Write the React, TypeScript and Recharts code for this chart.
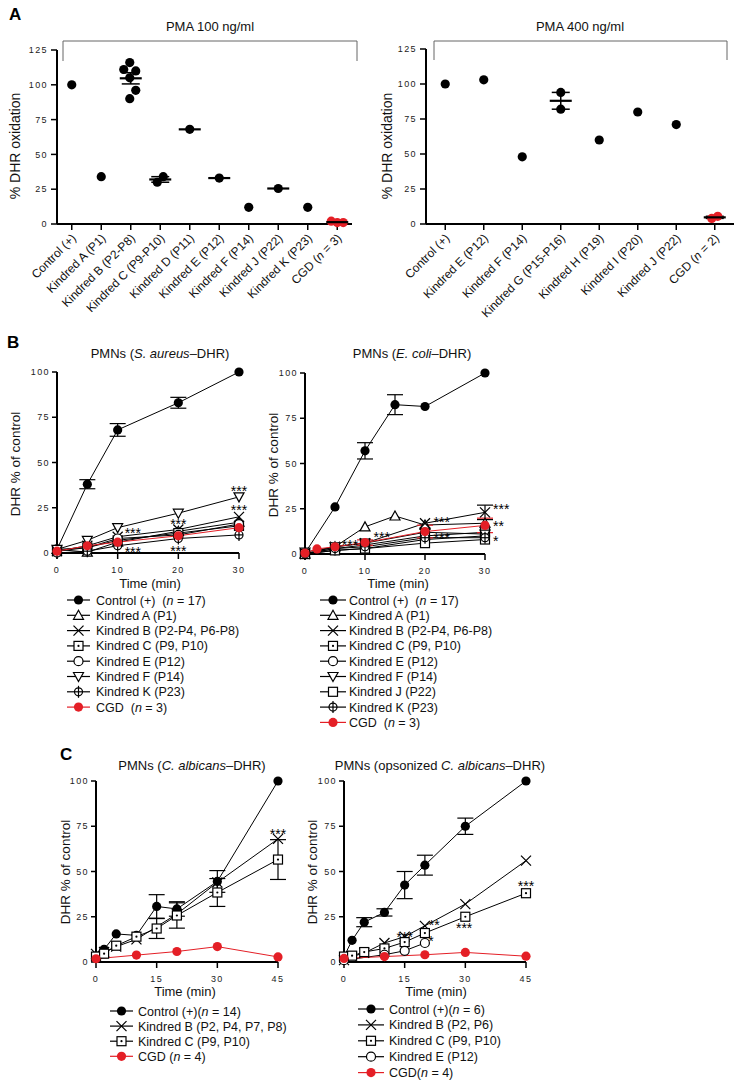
import React from "react";
import { ComposedChart, Line, Scatter, XAxis, YAxis, ErrorBar } from "recharts";

const FONT = '"Liberation Sans", Arial, Helvetica, sans-serif';
const RED = "#e41f26";
const BLACK = "#000";

// ---------- Panel A: PMA stimulation ----------
const pma100Groups = [
  "Control (+)",
  "Kindred A (P1)",
  "Kindred B (P2-P8)",
  "Kindred C (P9-P10)",
  "Kindred D (P11)",
  "Kindred E (P12)",
  "Kindred F (P14)",
  "Kindred J (P22)",
  "Kindred K (P23)",
  "CGD (n = 3)",
];
const pma100Values = [[100], [34], [116, 110, 111, 90, 96, 105], [30, 34], [68], [33], [12], [25.5], [12], [1, 2, 1]];
const pma100ShowMean = [false, false, true, true, true, true, false, true, false, true];

const pma400Groups = [
  "Control (+)",
  "Kindred E (P12)",
  "Kindred F (P14)",
  "Kindred G (P15-P16)",
  "Kindred H (P19)",
  "Kindred I (P20)",
  "Kindred J (P22)",
  "CGD (n = 2)",
];
const pma400Values = [[100], [103], [48], [94, 82], [60], [80], [71], [4, 5.5]];
const pma400ShowMean = [false, false, false, true, false, false, false, true];
const pmaTicks = [0, 25, 50, 75, 100, 125];

// ---------- Panel B: S. aureus ----------
const saTime = [0, 5, 10, 20, 30];
const saControl = [2, 38, 68, 83, 100];
const saControlSem = [0, 2.5, 3.5, 3, 0];
const saKinA = [2, 0.5, 6, 12, 17];
const saKinB = [1, 4, 9, 13, 20];
const saKinC = [1, 3, 7, 11, 15];
const saKinE = [2, 3, 8, 10, 16];
const saKinF = [2, 7, 14, 22, 31];
const saKinK = [0, 1, 4, 8, 10];
const saCgd = [1, 4, 6, 9.5, 14];
const saStars = [
  { t: 30, v: 36, s: "***" },
  { t: 30, v: 25.5, s: "***" },
  { t: 20, v: 17.7, s: "***" },
  { t: 12.5, v: 12.7, s: "***" },
  { t: 12.5, v: 2.2, s: "***" },
  { t: 20, v: 2.8, s: "***" },
];

// ---------- Panel B: E. coli ----------
const ecTime = [0, 5, 10, 15, 20, 30];
const ecControl = [0.5, 26, 57, 82.5, 81.5, 100];
const ecControlSem = [0, 0, 4.5, 5.5, 0, 0];
const ecKinA = [0, 4, 15, 21, 16, 17];
const ecTimeShort = [0, 5, 10, 20, 30];
const ecKinB = [0, 4, 6, 17, 23];
const ecKinBSem = [0, 0, 0, 0, 4];
const ecKinC = [0, 3, 5, 10, 12];
const ecKinE = [0, 2, 3, 8, 10];
const ecKinF = [1, 4, 6, 12, 11];
const ecKinJ = [0, 2, 3, 6, 8];
const ecKinK = [0, 3, 4, 9, 9];
const ecCgdTime = [0, 2, 5, 10, 20, 30];
const ecCgd = [0.5, 2.8, 4, 6.3, 12.4, 15.8];
const ecCgdSem = [0, 0, 0, 1.5, 3.5, 4];
const ecStars = [
  { t: 7.5, v: 6.7, s: "***" },
  { t: 12.8, v: 11, s: "***" },
  { t: 22.8, v: 19.4, s: "***" },
  { t: 22.8, v: 10.6, s: "***" },
  { t: 30, v: 26.5, s: "***", side: "right" },
  { t: 30, v: 17.2, s: "**", side: "right" },
  { t: 30, v: 8.8, s: "*", side: "right" },
];

// ---------- Panel C: C. albicans ----------
const caTime = [0, 2, 5, 10, 15, 20, 30, 45];
const caControl = [3, 7, 15.5, 14.7, 30.7, 29.3, 44.5, 100];
const caControlSem = [0, 0, 0, 0, 6.5, 4, 6, 0];
const caKinBTime = [0, 2, 5, 10, 20, 30, 45];
const caKinB = [4.5, 5.5, 8.5, 12.5, 26.5, 44, 68];
const caKinC = [3, 4.6, 9, 14, 18.5, 25.7, 38.4, 56.6];
const caKinCSem = [0, 0, 0, 0, 5.5, 7, 7.7, 11];
const caCgdTime = [0, 10, 20, 30, 45];
const caCgd = [1.8, 3.8, 5.8, 8.5, 2.8];
const caStars = [{ t: 45, v: 72.5, s: "***" }];

// ---------- Panel C: opsonized C. albicans ----------
const opTime = [0, 2, 5, 10, 15, 20, 30, 45];
const opControl = [3, 12, 22, 27.4, 42.5, 53.5, 75, 100];
const opControlSem = [0, 0, 2.5, 2, 7.5, 5.5, 4.5, 0];
const opKinB = [1, 3, 5, 10.5, 14, 20, 32, 56];
const opKinC = [3, 3.5, 5.5, 7.5, 11, 16, 25, 38];
const opKinETime = [0, 10, 15, 20];
const opKinE = [1, 4, 6.2, 10.5];
const opCgdTime = [0, 10, 20, 30, 45];
const opCgd = [2, 3, 4, 5.3, 3.2];
const opStars = [
  { t: 15, v: 15.5, s: "***" },
  { t: 22.3, v: 22.3, s: "**" },
  { t: 21.5, v: 13.3, s: "*" },
  { t: 29.7, v: 20.4, s: "***" },
  { t: 45, v: 43.6, s: "***" },
];

type Series = { name: string; kind: string; color: string; t: number[]; v: number[]; e?: number[] };

const saSeries: Series[] = [
  { name: "Control (+)  (n = 17)", kind: "dot", color: BLACK, t: saTime, v: saControl, e: saControlSem },
  { name: "Kindred A (P1)", kind: "triUp", color: BLACK, t: saTime, v: saKinA },
  { name: "Kindred B (P2-P4, P6-P8)", kind: "cross", color: BLACK, t: saTime, v: saKinB },
  { name: "Kindred C (P9, P10)", kind: "sqDot", color: BLACK, t: saTime, v: saKinC },
  { name: "Kindred E (P12)", kind: "ring", color: BLACK, t: saTime, v: saKinE },
  { name: "Kindred F (P14)", kind: "triDown", color: BLACK, t: saTime, v: saKinF },
  { name: "Kindred K (P23)", kind: "ringPlus", color: BLACK, t: saTime, v: saKinK },
  { name: "CGD  (n = 3)", kind: "dot", color: RED, t: saTime, v: saCgd },
];

const ecSeries: Series[] = [
  { name: "Control (+)  (n = 17)", kind: "dot", color: BLACK, t: ecTime, v: ecControl, e: ecControlSem },
  { name: "Kindred A (P1)", kind: "triUp", color: BLACK, t: ecTime, v: ecKinA },
  { name: "Kindred B (P2-P4, P6-P8)", kind: "cross", color: BLACK, t: ecTimeShort, v: ecKinB, e: ecKinBSem },
  { name: "Kindred C (P9, P10)", kind: "sqDot", color: BLACK, t: ecTimeShort, v: ecKinC },
  { name: "Kindred E (P12)", kind: "ring", color: BLACK, t: ecTimeShort, v: ecKinE },
  { name: "Kindred F (P14)", kind: "triDown", color: BLACK, t: ecTimeShort, v: ecKinF },
  { name: "Kindred J (P22)", kind: "sq", color: BLACK, t: ecTimeShort, v: ecKinJ },
  { name: "Kindred K (P23)", kind: "ringPlus", color: BLACK, t: ecTimeShort, v: ecKinK },
  { name: "CGD  (n = 3)", kind: "dot", color: RED, t: ecCgdTime, v: ecCgd, e: ecCgdSem },
];

const caSeries: Series[] = [
  { name: "Control (+)(n = 14)", kind: "dot", color: BLACK, t: caTime, v: caControl, e: caControlSem },
  { name: "Kindred B (P2, P4, P7, P8)", kind: "cross", color: BLACK, t: caKinBTime, v: caKinB },
  { name: "Kindred C (P9, P10)", kind: "sqDot", color: BLACK, t: caTime, v: caKinC, e: caKinCSem },
  { name: "CGD (n = 4)", kind: "dot", color: RED, t: caCgdTime, v: caCgd },
];

const opSeries: Series[] = [
  { name: "Control (+)(n = 6)", kind: "dot", color: BLACK, t: opTime, v: opControl, e: opControlSem },
  { name: "Kindred B (P2, P6)", kind: "cross", color: BLACK, t: opTime, v: opKinB },
  { name: "Kindred C (P9, P10)", kind: "sqDot", color: BLACK, t: opTime, v: opKinC },
  { name: "Kindred E (P12)", kind: "ring", color: BLACK, t: opKinETime, v: opKinE },
  { name: "CGD(n = 4)", kind: "dot", color: RED, t: opCgdTime, v: opCgd },
];

// ---------- helpers ----------
const mean = (a: number[]) => a.reduce((s, x) => s + x, 0) / a.length;
const sem = (a: number[]) => {
  if (a.length < 2) return 0;
  const m = mean(a);
  const sd = Math.sqrt(a.reduce((s, x) => s + (x - m) ** 2, 0) / (a.length - 1));
  return sd / Math.sqrt(a.length);
};

// simple beeswarm: spread overlapping dots sideways
function swarm(values: number[], pxPerUnit: number, step = 6, gap = 9) {
  const order = values.map((_, i) => i).sort((a, b) => values[a] - values[b]);
  const placed: { dx: number; py: number }[] = [];
  const dx = values.map(() => 0);
  for (const i of order) {
    const py = values[i] * pxPerUnit;
    for (const c of [0, step, -step, 2 * step, -2 * step]) {
      if (placed.every((p) => Math.abs(p.py - py) >= gap || Math.abs(p.dx - c) >= step)) {
        dx[i] = c;
        placed.push({ dx: c, py });
        break;
      }
    }
  }
  const m = mean(dx);
  return dx.map((d) => d - m);
}

function withItalicN(label: string) {
  return label.split(/(\bn(?=\s?=))/).map((p, i) =>
    i % 2 === 1 ? (
      <tspan key={i} fontStyle="italic">{p}</tspan>
    ) : (
      <tspan key={i}>{p}</tspan>
    )
  );
}

function Marker({ kind, x, y, color }: { kind: string; x: number; y: number; color: string }) {
  const sw = 1.2;
  switch (kind) {
    case "dot":
      return <circle cx={x} cy={y} r={4.6} fill={color} />;
    case "triUp":
      return <path d={`M${x},${y - 5} L${x + 5},${y + 4} L${x - 5},${y + 4} Z`} fill="#fff" stroke={color} strokeWidth={sw} />;
    case "triDown":
      return <path d={`M${x},${y + 5} L${x + 5},${y - 4} L${x - 5},${y - 4} Z`} fill="#fff" stroke={color} strokeWidth={sw} />;
    case "cross":
      return (
        <g stroke={color} strokeWidth={sw}>
          <line x1={x - 5} y1={y - 5} x2={x + 5} y2={y + 5} />
          <line x1={x - 5} y1={y + 5} x2={x + 5} y2={y - 5} />
        </g>
      );
    case "sqDot":
      return (
        <g>
          <rect x={x - 4.5} y={y - 4.5} width={9} height={9} fill="#fff" stroke={color} strokeWidth={sw} />
          <circle cx={x} cy={y} r={1.1} fill={color} />
        </g>
      );
    case "sq":
      return <rect x={x - 4.5} y={y - 4.5} width={9} height={9} fill="#fff" stroke={color} strokeWidth={sw} />;
    case "ring":
      return <circle cx={x} cy={y} r={4.5} fill="#fff" stroke={color} strokeWidth={sw} />;
    case "ringPlus":
      return (
        <g stroke={color} strokeWidth={sw}>
          <circle cx={x} cy={y} r={4} fill="#fff" />
          <line x1={x} y1={y - 6} x2={x} y2={y + 6} />
          <line x1={x - 4} y1={y} x2={x + 4} y2={y} />
        </g>
      );
    default:
      return null;
  }
}

const axisLine = { stroke: BLACK, strokeWidth: 2 };
const tickLine = { stroke: BLACK, strokeWidth: 1.5 };
const numTick = { fontSize: 9, fill: "#222", fontFamily: FONT };

const StarShape = (p: any) => {
  const right = p.payload.side === "right";
  return (
    <text
      x={right ? p.cx + 8 : p.cx}
      y={p.cy + 8}
      textAnchor={right ? "start" : "middle"}
      fontSize={14}
      fontFamily={FONT}
      fill={BLACK}
      stroke="none"
      style={{ fill: BLACK }}
    >
      {p.payload.s}
    </text>
  );
};

// ---------- Panel A chart ----------
const PMA_PX_PER_UNIT = 174 / 125;

function PmaChart({
  left,
  groups,
  values,
  showMean,
  yWidth,
  marginRight,
  marginTop,
}: {
  left: number;
  groups: string[];
  values: number[][];
  showMean: boolean[];
  yWidth: number;
  marginRight: number;
  marginTop: number;
}) {
  const dots = values.flatMap((vals, gi) => {
    const dx = swarm(vals, PMA_PX_PER_UNIT);
    return vals.map((v, k) => ({ x: gi, v, dx: dx[k], red: groups[gi].startsWith("CGD") }));
  });
  const means = values
    .map((vals, gi) => ({ x: gi, v: mean(vals), e: sem(vals) }))
    .filter((_, gi) => showMean[gi]);
  const RotTick = (p: any) => (
    <g transform={`translate(${p.x + 2},${p.y + 4})`}>
      <text transform="rotate(-45)" textAnchor="end" dy="0.35em" fontSize={12} fill="#111" fontFamily={FONT} style={{ whiteSpace: "pre" }}>
        {withItalicN(groups[p.payload.value] ?? "")}
      </text>
    </g>
  );
  return (
    <div style={{ position: "absolute", left, top: 0 }}>
      <ComposedChart width={372} height={330} margin={{ top: marginTop, right: marginRight, bottom: 6, left: 0 }}>
        <XAxis
          type="number"
          dataKey="x"
          domain={[-0.5, groups.length - 0.5]}
          ticks={groups.map((_, i) => i)}
          interval={0}
          height={100}
          axisLine={axisLine}
          tickLine={tickLine}
          tickSize={6}
          tick={RotTick}
        />
        <YAxis
          type="number"
          domain={[0, 125]}
          ticks={pmaTicks}
          width={yWidth}
          axisLine={axisLine}
          tickLine={tickLine}
          tickSize={6}
          tickMargin={3}
          tick={numTick}
        />
        <Scatter
          data={dots}
          dataKey="v"
          isAnimationActive={false}
          shape={(p: any) => <circle cx={p.cx + p.payload.dx} cy={p.cy} r={4.6} fill={p.payload.red ? RED : BLACK} />}
        />
        <Scatter
          data={means}
          dataKey="v"
          isAnimationActive={false}
          shape={(p: any) => <line x1={p.cx - 11} x2={p.cx + 11} y1={p.cy} y2={p.cy} stroke={BLACK} strokeWidth={2.2} />}
        >
          <ErrorBar dataKey="e" direction="y" width={9} stroke={BLACK} strokeWidth={1.5} />
        </Scatter>
      </ComposedChart>
    </div>
  );
}

// ---------- time-course chart ----------
function TimeChart({
  left,
  top,
  width,
  yWidth,
  marginTop,
  marginRight,
  marginBottom,
  xMax,
  xTicks,
  series,
  stars,
}: {
  left: number;
  top: number;
  width: number;
  yWidth: number;
  marginTop: number;
  marginRight: number;
  marginBottom: number;
  xMax: number;
  xTicks: number[];
  series: Series[];
  stars: { t: number; v: number; s: string; side?: string }[];
}) {
  return (
    <div style={{ position: "absolute", left, top }}>
      <ComposedChart width={width} height={260} margin={{ top: marginTop, right: marginRight, bottom: marginBottom, left: 0 }}>
        <XAxis
          type="number"
          dataKey="t"
          domain={[0, xMax]}
          ticks={xTicks}
          interval={0}
          height={35}
          axisLine={axisLine}
          tickLine={tickLine}
          tickSize={6}
          tickMargin={8}
          tick={numTick}
        />
        <YAxis
          type="number"
          domain={[0, 100]}
          ticks={[0, 25, 50, 75, 100]}
          width={yWidth}
          axisLine={axisLine}
          tickLine={tickLine}
          tickSize={5}
          tickMargin={2}
          tick={numTick}
        />
        {series.map((s) => (
          <Line
            key={s.name}
            data={s.t.map((t, i) => ({ t, v: s.v[i], e: s.e ? s.e[i] : 0 }))}
            dataKey="v"
            type="linear"
            stroke={s.color}
            strokeWidth={1}
            activeDot={false}
            legendType="none"
            isAnimationActive={false}
            dot={(p: any) => <Marker key={`${s.name}-${p.index}`} kind={s.kind} x={p.cx} y={p.cy} color={s.color} />}
          >
            {s.e ? <ErrorBar dataKey="e" direction="y" width={8} stroke={s.color} strokeWidth={1.2} /> : null}
          </Line>
        ))}
        <Scatter data={stars} dataKey="v" fill={BLACK} shape={StarShape} isAnimationActive={false} legendType="none" />
      </ComposedChart>
    </div>
  );
}

function LegendBlock({ items, x1, x2, tx, y0, dy }: { items: Series[]; x1: number; x2: number; tx: number; y0: number; dy: number }) {
  return (
    <g>
      {items.map((s, i) => {
        const y = y0 + i * dy;
        return (
          <g key={s.name}>
            <line x1={x1} x2={x2} y1={y} y2={y} stroke={s.color} strokeWidth={1.2} />
            <Marker kind={s.kind} x={(x1 + x2) / 2} y={y} color={s.color} />
            <text x={tx} y={y + 4.5} fontSize={12.5} fontFamily={FONT} fill="#111" style={{ whiteSpace: "pre" }}>
              {withItalicN(s.name)}
            </text>
          </g>
        );
      })}
    </g>
  );
}

function YTitle({ x, y, text, size = 13.5 }: { x: number; y: number; text: string; size?: number }) {
  return (
    <text
      transform={`translate(${x + size * 0.36},${y}) rotate(-90)`}
      textAnchor="middle"
      fontSize={size}
      fontFamily={FONT}
      fill="#111"
    >
      {text}
    </text>
  );
}

const titleProps = { fontSize: 13, fontFamily: FONT, fill: "#111", textAnchor: "middle" as const };

export default function App() {
  return (
    <div style={{ position: "absolute", left: 0, top: 0, width: 744, height: 1085, background: "#fff" }}>
      <style>{`.recharts-cartesian-axis-tick-value{letter-spacing:1.4px}`}</style>

      <PmaChart left={0} groups={pma100Groups} values={pma100Values} showMean={pma100ShowMean} yWidth={57} marginRight={20} marginTop={50} />
      <PmaChart left={372} groups={pma400Groups} values={pma400Values} showMean={pma400ShowMean} yWidth={54} marginRight={10} marginTop={49} />

      <TimeChart left={0} top={330} width={262} yWidth={57} marginTop={42} marginRight={23} marginBottom={2} xMax={30} xTicks={[0, 10, 20, 30]} series={saSeries} stars={saStars} />
      <TimeChart left={270} top={330} width={255} yWidth={35} marginTop={43} marginRight={40} marginBottom={1} xMax={30} xTicks={[0, 10, 20, 30]} series={ecSeries} stars={ecStars} />

      <TimeChart left={50} top={740} width={250} yWidth={46} marginTop={41} marginRight={22} marginBottom={3} xMax={45} xTicks={[0, 15, 30, 45]} series={caSeries} stars={caStars} />
      <TimeChart left={300} top={740} width={250} yWidth={44} marginTop={41} marginRight={24} marginBottom={3} xMax={45} xTicks={[0, 15, 30, 45]} series={opSeries} stars={opStars} />

      <svg width={744} height={1085} style={{ position: "absolute", left: 0, top: 0, pointerEvents: "none" }}>
        {/* panel letters */}
        <text x={9} y={20} fontSize={17} fontWeight="bold" fontFamily={FONT}>A</text>
        <text x={7} y={348} fontSize={17} fontWeight="bold" fontFamily={FONT}>B</text>
        <text x={60} y={760} fontSize={17} fontWeight="bold" fontFamily={FONT}>C</text>

        {/* panel A titles and brackets */}
        <text x={210} y={31} {...titleProps}>PMA 100 ng/ml</text>
        <text x={580} y={31} {...titleProps}>PMA 400 ng/ml</text>
        <path d="M63,61 V41 H357 V61" fill="none" stroke="#666" strokeWidth={1} />
        <path d="M434,60 V41 H727 V60" fill="none" stroke="#666" strokeWidth={1} />
        <YTitle x={15} y={146} text="% DHR oxidation" size={14} />
        <YTitle x={387} y={146} text="% DHR oxidation" size={14} />

        {/* panel B */}
        <text x={160} y={358} {...titleProps}>
          PMNs (<tspan fontStyle="italic">S. aureus</tspan>–DHR)
        </text>
        <text x={412} y={358} {...titleProps}>
          PMNs (<tspan fontStyle="italic">E. coli</tspan>–DHR)
        </text>
        <YTitle x={15} y={464} text="DHR % of control" />
        <YTitle x={273} y={465} text="DHR % of control" />
        <text x={150} y={588} {...titleProps}>Time (min)</text>
        <text x={398} y={588} {...titleProps}>Time (min)</text>
        <LegendBlock items={saSeries} x1={67} x2={90} tx={96} y0={600} dy={15.3} />
        <LegendBlock items={ecSeries} x1={320} x2={346} tx={349} y0={600} dy={15.3} />

        {/* panel C */}
        <text x={192} y={770} {...titleProps}>
          PMNs (<tspan fontStyle="italic">C. albicans</tspan>–DHR)
        </text>
        <text x={440} y={770} {...titleProps}>
          PMNs (opsonized <tspan fontStyle="italic">C. albicans</tspan>–DHR)
        </text>
        <YTitle x={65} y={872} text="DHR % of control" />
        <YTitle x={312} y={872} text="DHR % of control" />
        <text x={185} y={996} {...titleProps}>Time (min)</text>
        <text x={436} y={996} {...titleProps}>Time (min)</text>
        <LegendBlock items={caSeries} x1={110} x2={133} tx={138} y0={1011} dy={15.1} />
        <LegendBlock items={opSeries} x1={358} x2={384} tx={389} y0={1009} dy={15.9} />
      </svg>
    </div>
  );
}
